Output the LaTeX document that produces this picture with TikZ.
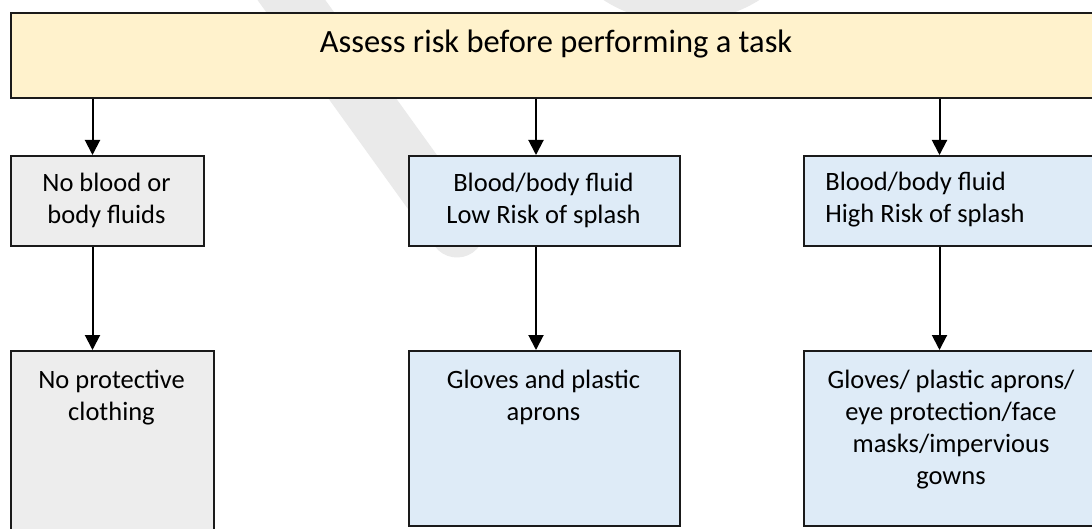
\documentclass[tikz,border=0pt]{standalone}
\usepackage{fontspec}
\setmainfont{Carlito}
\usetikzlibrary{arrows.meta}
\definecolor{yel}{HTML}{FFF2CC}
\definecolor{gry}{HTML}{EDEDED}
\definecolor{blu}{HTML}{DEEBF7}
\definecolor{edgec}{HTML}{1A1A1A}
\definecolor{wmk}{HTML}{EAEAEA}
\begin{document}
\begin{tikzpicture}[x=0.5pt,y=-0.5pt,
  box/.style={draw=edgec, line width=0.8pt, anchor=north west, inner sep=0pt},
  txt/.style={font=\fontsize{13.25}{16}\selectfont, align=center, inner sep=0pt},
  toptxt/.style={font=\fontsize{16.25}{20}\selectfont, inner sep=0pt},
  arr/.style={-{Triangle[width=7.5pt,length=7.5pt]}, line width=1pt, draw=black},
  wm/.style={line width=27.5pt, draw=wmk, line cap=round}]
\useasboundingbox (0,0) rectangle (1092,529);
\clip (0,0) rectangle (1092,529);
\fill[white] (0,0) rectangle (1092,529);
% faint watermark strokes
\draw[wm] (277,-20) -- (457,230);
\draw[wm] (595,-45) .. controls (635,8) and (725,8) .. (770,-45);
% coordinates for the arrow columns
\coordinate (a1) at (92.5,0);
\coordinate (a2) at (536,0);
\coordinate (a3) at (939.5,0);
% top box
\node[box, fill=yel, minimum width=1095*0.5pt, minimum height=85*0.5pt] (top) at (10,12) {};
\node[toptxt] (toplbl) at (556,44) {Assess risk before performing a task};
% row 2
\node[box, fill=gry, minimum width=193*0.5pt, minimum height=90*0.5pt] (l2) at (10,155) {};
\node[txt] (l2t) at (106.5,200) {No blood or\\body fluids};
\node[box, fill=blu, minimum width=271*0.5pt, minimum height=90*0.5pt] (m2) at (408,155) {};
\node[txt] (m2t) at (543.5,200) {Blood/body fluid\\Low Risk of splash};
\node[box, fill=blu, minimum width=300*0.5pt, minimum height=90*0.5pt] (r2) at (803,155) {};
\node[txt, align=left, anchor=west] (r2t) at (825,200) {Blood/body fluid\\High Risk of splash};
% row 3
\node[box, fill=gry, minimum width=203*0.5pt, minimum height=200*0.5pt] (l3) at (10,350) {};
\node[txt, anchor=north] (l3t) at (111.5,370) {No protective\\clothing};
\node[box, fill=blu, minimum width=271*0.5pt, minimum height=175*0.5pt] (m3) at (408,350) {};
\node[txt, anchor=north] (m3t) at (543.5,370) {Gloves and plastic\\aprons};
\node[box, fill=blu, minimum width=300*0.5pt, minimum height=175*0.5pt] (r3) at (803,350) {};
\node[txt, anchor=north] (r3t) at (951,370) {Gloves/ plastic aprons/\\eye protection/face\\masks/impervious\\gowns};
% connectors
\draw[arr] (top.south -| a1) -- (l2.north -| a1);
\draw[arr] (top.south -| a2) -- (m2.north -| a2);
\draw[arr] (top.south -| a3) -- (r2.north -| a3);
\draw[arr] (l2.south -| a1) -- (l3.north -| a1);
\draw[arr] (m2.south -| a2) -- (m3.north -| a2);
\draw[arr] (r2.south -| a3) -- (r3.north -| a3);
\end{tikzpicture}
\end{document}
